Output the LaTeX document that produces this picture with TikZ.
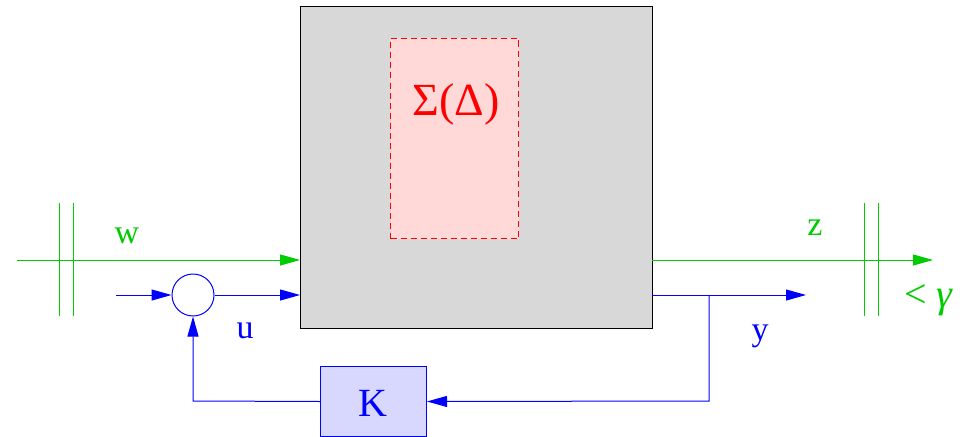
\documentclass[tikz,border=0pt]{standalone}
\usepackage{fontspec}
\setmainfont{Liberation Serif}
\usetikzlibrary{arrows.meta}
\definecolor{sgreen}{RGB}{0,204,0}
\definecolor{sgray}{RGB}{216,216,216}
\definecolor{spink}{RGB}{255,216,216}
\definecolor{sblue}{RGB}{216,216,255}
\begin{document}
\begin{tikzpicture}[x=1pt,y=-1pt,line width=1pt,
  tip/.style={-{Triangle[length=20pt,width=11pt]}},
  glab/.style={text=sgreen,font=\fontsize{34}{36}\selectfont,inner sep=0pt},
  blab/.style={text=blue,font=\fontsize{34}{36}\selectfont,inner sep=0pt}]
\useasboundingbox (0,0) rectangle (965,436);
% plant
\node[draw=black,fill=sgray,minimum width=352pt,minimum height=322pt,inner sep=0pt,anchor=north west] (P) at (300,6) {};
\node[draw=red,dashed,dash pattern=on 6pt off 4pt,fill=spink,minimum width=128pt,minimum height=200pt,inner sep=0pt,anchor=north west] (S) at (390,38) {};
\node[text=red,font=\fontsize{46}{48}\selectfont,inner sep=0pt] (SL) at (456,104) {Σ(Δ)};
% controller
\node[draw=blue,fill=sblue,minimum width=106pt,minimum height=70pt,inner sep=0pt,anchor=north west] (K) at (320,366) {};
\node[text=blue,font=\fontsize{40}{42}\selectfont,inner sep=0pt] (KL) at (373,403) {K};
% sum
\node[draw=blue,circle,minimum size=42pt,inner sep=0pt] (C) at (193,295) {};
% coordinates
\coordinate (wIn) at (17,260);
\coordinate (wOut) at (300,260);
\coordinate (uIn) at (116,295);
\coordinate (uOut) at (300,295);
\coordinate (zs) at (652,260);
\coordinate (ze) at (933,260);
\coordinate (ys) at (652,295);
\coordinate (ye) at (806,295);
\coordinate (br) at (709,295);
\coordinate (bc) at (709,401);
\coordinate (kc) at (193,401);
% green lines
\draw[sgreen,tip] (wIn) -- (wOut);
\draw[sgreen,tip] (zs) -- (ze);
\foreach \xx/\nm in {59/a,73/b,864/c,878/d}{
  \coordinate (t\nm) at (\xx,203);
  \coordinate (u\nm) at (\xx,316);
  \draw[sgreen] (t\nm) -- (u\nm);
}
% blue lines
\draw[blue,tip] (uIn) -- (C.west);
\draw[blue,tip] (C.east) -- (uOut);
\draw[blue,tip] (ys) -- (ye);
\draw[blue,tip] (br) -- (bc) -- (K.east);
\draw[blue,tip] (K.west) -- (kc) -- (C.south);
% labels
\node[glab] (w) at (127,236) {w};
\node[glab] (z) at (815,228) {z};
\node[text=sgreen,font=\fontsize{40}{44}\selectfont,inner sep=0pt] (g) at (929,300) {<\hspace{9pt}\textit{γ}};
\node[blab] (u) at (245,331) {u};
\node[blab] (y) at (760,336) {y};
\end{tikzpicture}
\end{document}
